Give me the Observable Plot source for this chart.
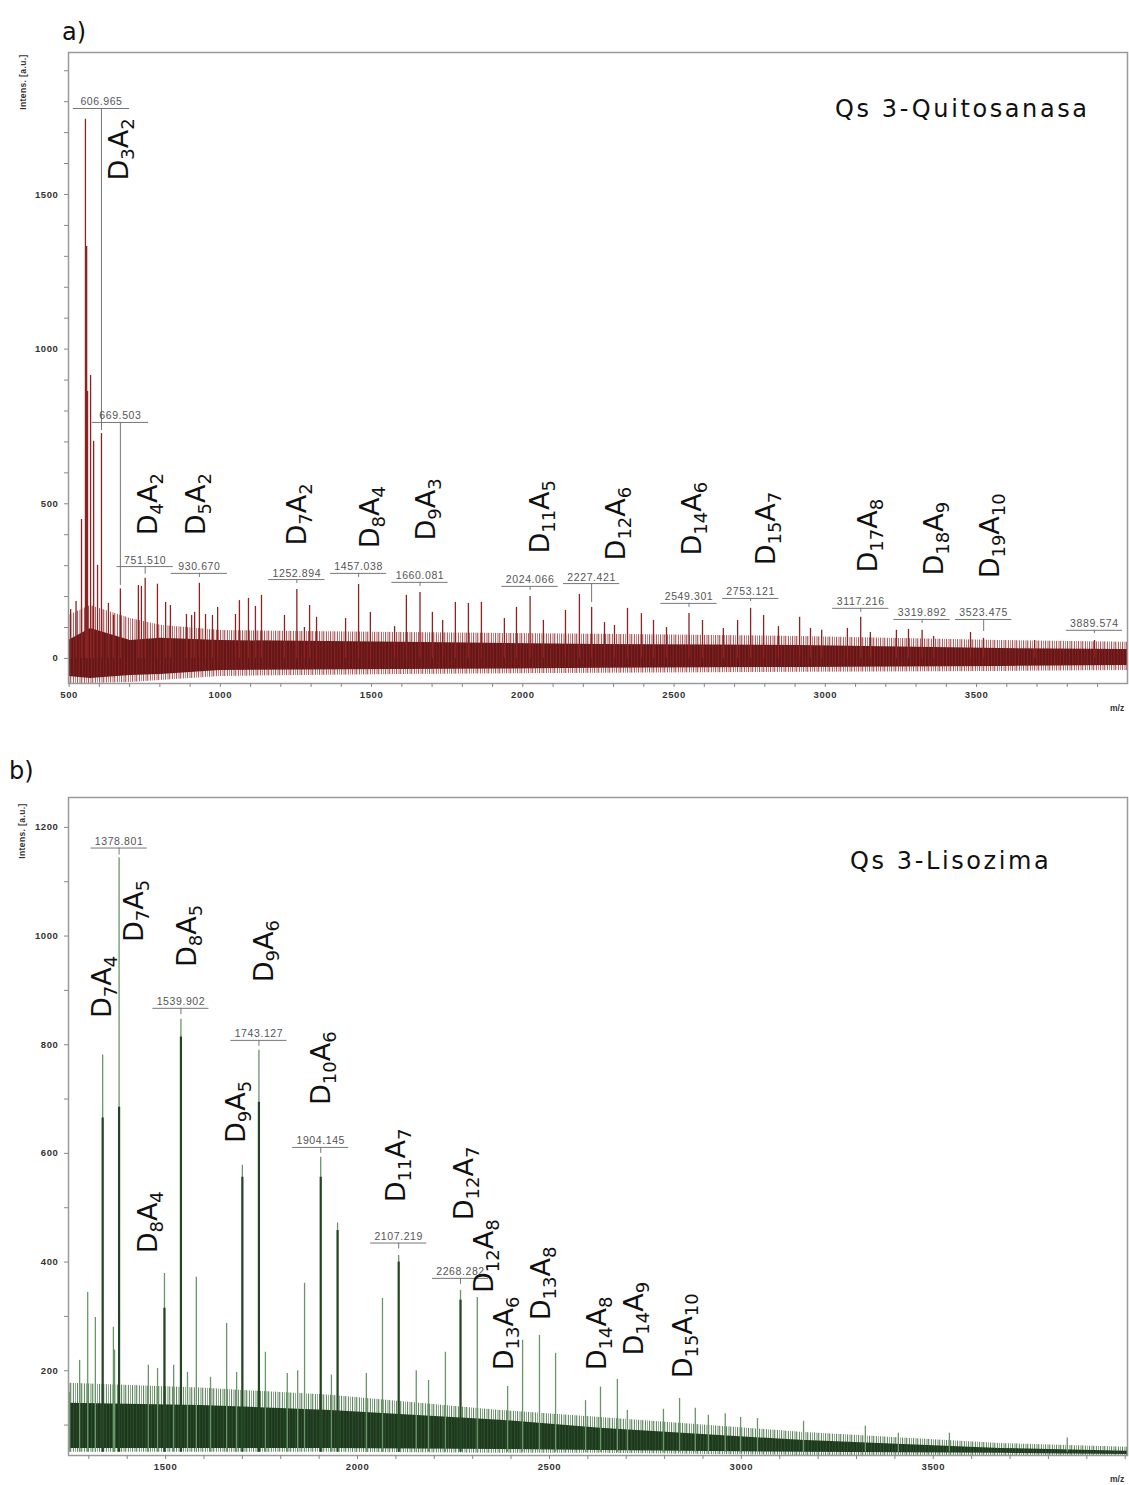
<!DOCTYPE html>
<html><head><meta charset="utf-8">
<script src="https://cdn.jsdelivr.net/npm/d3@7"></script>
<script src="https://cdn.jsdelivr.net/npm/@observablehq/plot@0.6"></script>
<style>
body{margin:0;background:#fff;}
#root{position:relative;width:1129px;height:1485px;overflow:hidden;background:#fff;}
.abs{position:absolute;white-space:nowrap;line-height:1;}
.panel{position:absolute;left:0;}
.ylab{font:bold 8.5px "Liberation Sans",Arial,sans-serif;letter-spacing:0.4px;color:#333;transform:translate(-50%,-50%) rotate(-90deg);}
.mz{font:bold 8.5px "Liberation Sans",Arial,sans-serif;color:#333;}
.tag{font:24px "DejaVu Sans",sans-serif;color:#111;}
.title{font:24px "DejaVu Sans",sans-serif;letter-spacing:2.6px;color:#111;}
</style></head><body><div id="root"></div>
<script>
// ---------- Panel a : Qs 3-Quitosanasa ----------
const peaksA_mz  = [505,523,541,554,558,561,571,581,594,607,630,647,669.5,729,739,751.5,792,819,835,888,905,915,930.7,951,974,991,1050,1063,1093,1116,1136,1212,1252.9,1278,1295,1318,1414,1457,1496,1576,1615,1660,1701,1735,1777,1820,1863,1939,1979,2024,2068,2141,2187,2227.4,2270,2303,2346,2392,2432,2475,2549.3,2594,2663,2710,2753,2796,2845,2915,2951,2988,3073,3117,3149,3235,3275,3320,3358,3480,3523,3692,3890];
const peaksA_int = [158,184,449,1743,1332,863,915,702,301,727,178,139,225,236,233,259,240,181,171,142,139,149,243,142,139,165,142,187,194,168,204,139,223,100,171,133,129,239,149,103,204,213,149,123,181,178,181,129,165,200,123,155,207,165,116,107,162,145,123,100,145,123,97,123,162,139,103,133,97,91,97,133,84,91,94,91,71,84,65,58,58];
const noiseA_mz  = [498,571,703,802,1000,1596,2257,2918,3579,3999];
const noiseA_hi  = [139,171,129,107,90,84,78,71,58,52];
const noiseA_lo  = [-81,-81,-78,-71,-58,-52,-48,-45,-42,-39];
const noiseA_chi = [58,97,58,65,58,52,45,42,32,29];
const noiseA_clo = [-58,-65,-55,-52,-39,-36,-32,-29,-26,-23];
const labelsA_mz  = [606.965,669.503,751.510,930.670,1252.894,1457.038,1660.081,2024.066,2227.421,2549.301,2753.121,3117.216,3319.892,3523.475,3889.574];
const labelsA_bar = [1778,763,297,275,255,275,246,233,242,178,194,162,126,126,91];
const labelsA_tip = [737,236,272,262,242,262,233,220,181,165,184,149,113,87,81];
const compsA_name = ["D3A2","D4A2","D5A2","D7A2","D8A4","D9A3","D11A5","D12A6","D14A6","D15A7","D17A8","D18A9","D19A10"];
const compsA_mz   = [667,762,921,1255,1496,1681,2058,2310,2561,2806,3143,3361,3546];
const compsA_int  = [1545,398,398,365,356,381,339,317,333,301,278,268,259];
const xTicksA = d3.range(500, 4000, 100);
const xLabelsA = [500,1000,1500,2000,2500,3000,3500];
const yTicksA = d3.range(0, 2000, 100);
const yLabelsA = [0,500,1000,1500];

// ---------- Panel b : Qs 3-Lisozima ----------
const peaksB_mz  = [1250,1276,1297,1317,1336,1364,1367,1378.8,1455,1479,1497,1521,1539.9,1557,1580,1617,1659,1685,1700,1743.1,1760,1817,1844,1862,1904.1,1932,1948,2023,2065,2107.2,2153,2185,2229,2268.3,2312,2391,2430,2474,2516,2594,2633,2677,2703,2797,2839,2880,2914,2958,2998,3042,3162,3323,3409,3542,3849];
const peaksB_int = [160,219,344,298,781,280,238,1144,210,204,379,210,847,197,372,188,287,197,578,790,234,195,200,361,593,192,472,195,333,412,200,182,234,348,335,171,256,265,232,145,170,184,127,129,149,131,118,121,114,112,107,98,85,85,76];
const coresB_mz  = [1336,1378.8,1497,1539.9,1700,1743.1,1904.1,1948,2107.2,2268.3];
const coresB_int = [665,685,315,814,556,694,556,458,400,330];
const noiseB_mz  = [1247,1591,1930,2372,2633,3154,3675,4006];
const noiseB_hi  = [177,168,155,127,114,87,66,59];
const noiseB_lo  = [50,50,50,48,48,44,44,44];
const noiseB_chi = [140,136,127,109,94,72,57,52];
const noiseB_clo = [57,57,57,55,53,50,48,46];
const labelsB_mz  = [1378.801,1539.902,1743.127,1904.145,2107.219,2268.282];
const labelsB_bar = [1162,867,808,611,435,370];
const labelsB_tip = [1149,855,797,600,424,359];
const compsB_name = ["D7A4","D7A5","D8A5","D9A6","D8A4","D9A5","D10A6","D11A7","D12A7","D12A8","D13A6","D13A8","D14A8","D14A9","D15A10"];
const compsB_mz   = [1336,1419,1557,1758,1455,1685,1906,2101,2279,2331,2383,2479,2625,2721,2849];
const compsB_int  = [849,989,943,915,416,619,689,510,477,343,201,293,201,228,186];
const xTicksB = d3.range(1300, 4001, 100);
const xLabelsB = [1500,2000,2500,3000,3500];
const yTicksB = d3.range(100, 1201, 100);
const yLabelsB = [200,400,600,800,1000,1200];

const zip = (a, b, k1, k2) => a.map((v, i) => ({[k1]: v, [k2]: b[i]}));
const NS = "http://www.w3.org/2000/svg";

function addPatterns(svg, id, light, dark) {
  const defs = document.createElementNS(NS, "defs");
  // outer band: spiky streaks with gaps
  const p1 = document.createElementNS(NS, "pattern");
  p1.setAttribute("id", id + "-outer"); p1.setAttribute("patternUnits", "userSpaceOnUse");
  p1.setAttribute("width", "11"); p1.setAttribute("height", "13");
  [[0,1.1,0.9],[2.2,0.8,0.6],[3.6,1.2,1],[5.5,0.7,0.55],[7,1,0.85],[9,0.9,0.7]].forEach(([x,w,op]) => {
    const r = document.createElementNS(NS, "rect");
    r.setAttribute("x", x); r.setAttribute("y", 0); r.setAttribute("width", w); r.setAttribute("height", 13);
    r.setAttribute("fill", light); r.setAttribute("fill-opacity", op);
    p1.appendChild(r);
  });
  // core: dense dark with thin light streaks
  const p2 = document.createElementNS(NS, "pattern");
  p2.setAttribute("id", id + "-core"); p2.setAttribute("patternUnits", "userSpaceOnUse");
  p2.setAttribute("width", "9"); p2.setAttribute("height", "11");
  const bg = document.createElementNS(NS, "rect");
  bg.setAttribute("width", 9); bg.setAttribute("height", 11); bg.setAttribute("fill", dark);
  p2.appendChild(bg);
  [[1.5,0.6,0.55],[4.2,0.5,0.4],[6.8,0.7,0.5]].forEach(([x,w,op]) => {
    const r = document.createElementNS(NS, "rect");
    r.setAttribute("x", x); r.setAttribute("y", 0); r.setAttribute("width", w); r.setAttribute("height", 11);
    r.setAttribute("fill", light); r.setAttribute("fill-opacity", op);
    p2.appendChild(r);
  });
  defs.appendChild(p1); defs.appendChild(p2);
  svg.insertBefore(defs, svg.firstChild);
}

function panel(o) {
  const peaks = zip(o.peaksMz, o.peaksInt, "mz", "v");
  const cores = zip(o.coresMz, o.coresInt, "mz", "v");
  const noise = o.noiseMz.map((m, i) => ({mz: m, hi: o.noiseHi[i], lo: o.noiseLo[i], chi: o.noiseChi[i], clo: o.noiseClo[i]}));
  const labels = o.labelsMz.map((m, i) => ({mz: m, bar: o.labelsBar[i], tip: o.labelsTip[i], text: m.toFixed(3)}));
  const comps = o.compsName.map((n, i) => ({name: n, mz: o.compsMz[i], v: o.compsInt[i]}));
  const svg = Plot.plot({
    width: 1129, height: o.height,
    marginLeft: 68, marginRight: 2, marginTop: o.mt, marginBottom: o.mb,
    style: {fontFamily: "'Liberation Sans', Arial, sans-serif", fontSize: "9.5px", fontWeight: "bold", background: "transparent", color: "#333"},
    x: {domain: o.xDomain, label: null},
    y: {domain: o.yDomain, label: null},
    marks: [
      Plot.areaY(noise, {x: "mz", y1: "lo", y2: "hi", fill: `url(#${o.id}-outer)`}),
      Plot.areaY(noise, {x: "mz", y1: "clo", y2: "chi", fill: `url(#${o.id}-core)`}),
      Plot.ruleX(peaks, {x: "mz", y1: o.base, y2: "v", stroke: o.peak, strokeWidth: 1.3}),
      Plot.ruleX(cores, {x: "mz", y1: o.base, y2: "v", stroke: o.core, strokeWidth: 2.2}),
      Plot.ruleX(labels, {x: "mz", y1: "tip", y2: "bar", stroke: "#777", strokeWidth: 1}),
      Plot.ruleY(labels, {y: "bar", x1: d => d.mz - o.barHalf, x2: d => d.mz + o.barHalf, stroke: "#777", strokeWidth: 1}),
      Plot.text(labels, {x: "mz", y: "bar", text: "text", dy: -3, lineAnchor: "bottom", fontSize: 10.5, fontWeight: "normal", fill: "#555", fontFamily: "'Liberation Sans', Arial, sans-serif"}),
      Plot.text(comps, {x: "mz", y: "v", text: "name", rotate: -90, textAnchor: "start", lineAnchor: "middle", fontSize: 27, fontWeight: "normal", fontFamily: "'DejaVu Sans', sans-serif", fill: "#111"}),
      Plot.frame({stroke: "#9a9a9a", strokeWidth: 1.5}),
      Plot.axisX({ticks: o.xTicks, tickFormat: d => o.xLabels.includes(d) ? String(d) : "", tickSize: 4, tickPadding: 4, stroke: "#888", label: null}),
      Plot.axisY({ticks: o.yTicks, tickFormat: d => o.yLabels.includes(d) ? String(d) : "", tickSize: 4, tickPadding: 6, stroke: "#888", label: null})
    ]
  });
  svg.style.letterSpacing = "0.6px";
  addPatterns(svg, o.id, o.light, o.dark);
  // subscripts for composition labels
  svg.querySelectorAll("text").forEach(t => {
    const m = /^D(\d+)A(\d+)$/.exec(t.textContent);
    if (!m) return;
    t.textContent = "";
    t.style.letterSpacing = "0";
    const part = (s, sub, dy) => {
      const sp = document.createElementNS(NS, "tspan");
      sp.textContent = s;
      if (sub) sp.setAttribute("font-size", "18");
      if (dy) sp.setAttribute("dy", dy);
      t.appendChild(sp);
    };
    part("D", false, null); part(m[1], true, "5.8"); part("A", false, "-5.8"); part(m[2], true, "5.8");
  });
  return svg;
}

const root = document.getElementById("root");

const svgA = panel({
  id: "pa", height: 720, mt: 52, mb: 37, xDomain: [498, 3999], yDomain: [-81, 1959],
  peaksMz: peaksA_mz, peaksInt: peaksA_int, coresMz: [], coresInt: [],
  noiseMz: noiseA_mz, noiseHi: noiseA_hi, noiseLo: noiseA_lo, noiseChi: noiseA_chi, noiseClo: noiseA_clo,
  labelsMz: labelsA_mz, labelsBar: labelsA_bar, labelsTip: labelsA_tip,
  compsName: compsA_name, compsMz: compsA_mz, compsInt: compsA_int,
  xTicks: xTicksA, xLabels: xLabelsA, yTicks: yTicksA, yLabels: yLabelsA, base: 0, barHalf: 93,
  light: "#a04848", dark: "#6a1515", peak: "#8a2424", core: "#6e1818"
});
svgA.classList.add("panel"); svgA.style.top = "0px";
root.appendChild(svgA);

const svgB = panel({
  id: "pb", height: 745, mt: 57, mb: 30, xDomain: [1247, 4006], yDomain: [44, 1255],
  peaksMz: peaksB_mz, peaksInt: peaksB_int, coresMz: coresB_mz, coresInt: coresB_int,
  noiseMz: noiseB_mz, noiseHi: noiseB_hi, noiseLo: noiseB_lo, noiseChi: noiseB_chi, noiseClo: noiseB_clo,
  labelsMz: labelsB_mz, labelsBar: labelsB_bar, labelsTip: labelsB_tip,
  compsName: compsB_name, compsMz: compsB_mz, compsInt: compsB_int,
  xTicks: xTicksB, xLabels: xLabelsB, yTicks: yTicksB, yLabels: yLabelsB, base: 50, barHalf: 73,
  light: "#4f7a4f", dark: "#1d381d", peak: "#6a956a", core: "#234523"
});
svgB.classList.add("panel"); svgB.style.top = "740px";
root.appendChild(svgB);

function addText(cls, txt, left, top) {
  const d = document.createElement("div");
  d.className = "abs " + cls;
  d.textContent = txt;
  d.style.left = left + "px"; d.style.top = top + "px";
  root.appendChild(d);
}
addText("tag", "a)", 62, 18);
addText("tag", "b)", 9, 757);
addText("title", "Qs 3-Quitosanasa", 835, 95);
addText("title", "Qs 3-Lisozima", 850, 847);
addText("ylab", "Intens. [a.u.]", 23, 82);
addText("ylab", "Intens. [a.u.]", 22, 831);
addText("mz", "m/z", 1110, 703);
addText("mz", "m/z", 1110, 1474);
</script></body></html>
